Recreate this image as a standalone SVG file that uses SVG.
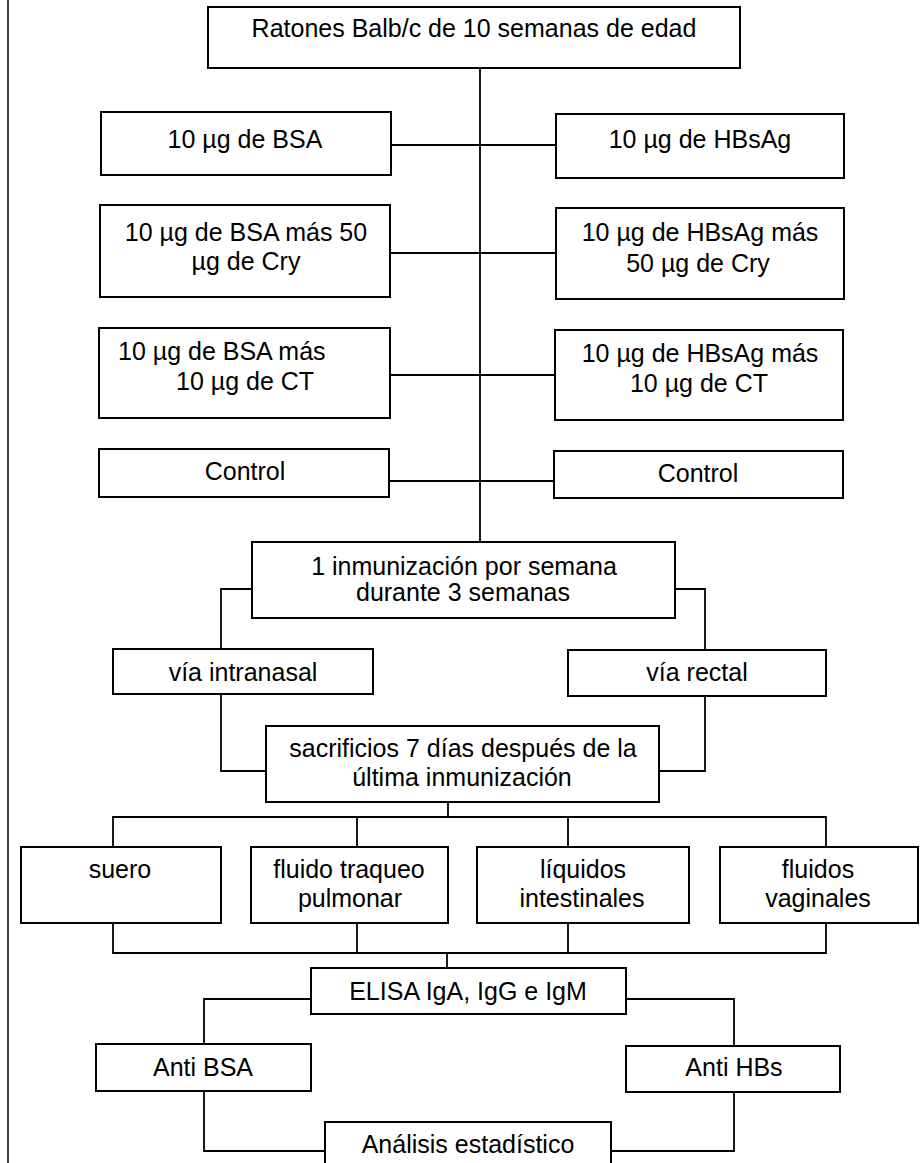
<svg xmlns="http://www.w3.org/2000/svg" width="920" height="1163" viewBox="0 0 920 1163">
<style>
.b{fill:#fff;stroke:#000;stroke-width:2}
.c{fill:none;stroke:#000;stroke-width:1.8}
text{font-family:"Liberation Sans",Arial,sans-serif;font-size:25px;fill:#000;text-anchor:middle}
.l{text-anchor:start}
</style>
<rect width="920" height="1163" fill="#fff"/>
<line x1="8" y1="0" x2="8" y2="1163" stroke="#000" stroke-width="1.5"/>
<g id="connectors" class="c">
<path d="M480 68V542"/>
<path d="M391 145H556"/>
<path d="M390 253H556"/>
<path d="M390 375H555"/>
<path d="M389 481H554"/>
<path d="M253 589H221V649"/>
<path d="M675 589H705V650"/>
<path d="M221 694V771H266"/>
<path d="M705 696V771H659"/>
<path d="M448 802V817"/>
<path d="M113 847V817H826V847"/>
<path d="M357 817V847M568 817V847"/>
<path d="M113 923V953H826V923"/>
<path d="M357 923V953M568 923V953"/>
<path d="M447 953V968"/>
<path d="M311 999H204V1044"/>
<path d="M626 999H734V1046"/>
<path d="M204 1091V1151H325"/>
<path d="M734 1092V1151H611"/>
</g>
<g id="n-top"><rect class="b" x="208" y="7" width="532" height="61"/><text x="474" y="37">Ratones Balb/c de 10 semanas de edad</text></g>
<g id="n-bsa"><rect class="b" x="101" y="112" width="290" height="63"/><text x="245" y="148">10 µg de BSA</text></g>
<g id="n-hbsag"><rect class="b" x="556" y="114" width="288" height="64"/><text x="700" y="148">10 µg de HBsAg</text></g>
<g id="n-bsa-cry"><rect class="b" x="100" y="205" width="290" height="92"/><text x="246" y="241">10 µg de BSA más 50</text><text x="246" y="270">µg de Cry</text></g>
<g id="n-hbsag-cry"><rect class="b" x="556" y="208" width="288" height="91"/><text x="700" y="241">10 µg de HBsAg más</text><text x="698" y="272">50 µg de Cry</text></g>
<g id="n-bsa-ct"><rect class="b" x="99" y="328" width="291" height="90"/><text class="l" x="118" y="360">10 µg de BSA más</text><text class="l" x="176" y="390">10 µg de CT</text></g>
<g id="n-hbsag-ct"><rect class="b" x="555" y="330" width="288" height="90"/><text x="700" y="362">10 µg de HBsAg más</text><text x="699" y="392">10 µg de CT</text></g>
<g id="n-control-l"><rect class="b" x="99" y="449" width="290" height="48"/><text x="245" y="480">Control</text></g>
<g id="n-control-r"><rect class="b" x="554" y="451" width="289" height="47"/><text x="698" y="482">Control</text></g>
<g id="n-inmun"><rect class="b" x="252" y="542" width="423" height="76"/><text x="464" y="575">1 inmunización por semana</text><text x="463" y="601">durante 3 semanas</text></g>
<g id="n-intranasal"><rect class="b" x="113" y="649" width="260" height="45"/><text x="243" y="681">vía intranasal</text></g>
<g id="n-rectal"><rect class="b" x="568" y="650" width="258" height="46"/><text x="697" y="681">vía rectal</text></g>
<g id="n-sacrificio"><rect class="b" x="266" y="726" width="393" height="76"/><text x="463" y="757">sacrificios 7 días después de la</text><text x="462" y="786">última inmunización</text></g>
<g id="n-suero"><rect class="b" x="21" y="847" width="200" height="76"/><text x="120" y="878">suero</text></g>
<g id="n-traqueo"><rect class="b" x="251" y="847" width="197" height="76"/><text x="349" y="878">fluido traqueo</text><text x="350" y="907">pulmonar</text></g>
<g id="n-intestinal"><rect class="b" x="477" y="847" width="212" height="76"/><text x="583" y="878">líquidos</text><text x="582" y="907">intestinales</text></g>
<g id="n-vaginal"><rect class="b" x="720" y="847" width="198" height="76"/><text x="818" y="878">fluidos</text><text x="818" y="907">vaginales</text></g>
<g id="n-elisa"><rect class="b" x="311" y="968" width="315" height="46"/><text x="468" y="1000">ELISA IgA, IgG e IgM</text></g>
<g id="n-antibsa"><rect class="b" x="96" y="1044" width="215" height="47"/><text x="203" y="1076">Anti BSA</text></g>
<g id="n-antihbs"><rect class="b" x="626" y="1046" width="214" height="46"/><text x="734" y="1076">Anti HBs</text></g>
<g id="n-analisis"><rect class="b" x="325" y="1122" width="286" height="60"/><text x="468" y="1153">Análisis estadístico</text></g>
</svg>
